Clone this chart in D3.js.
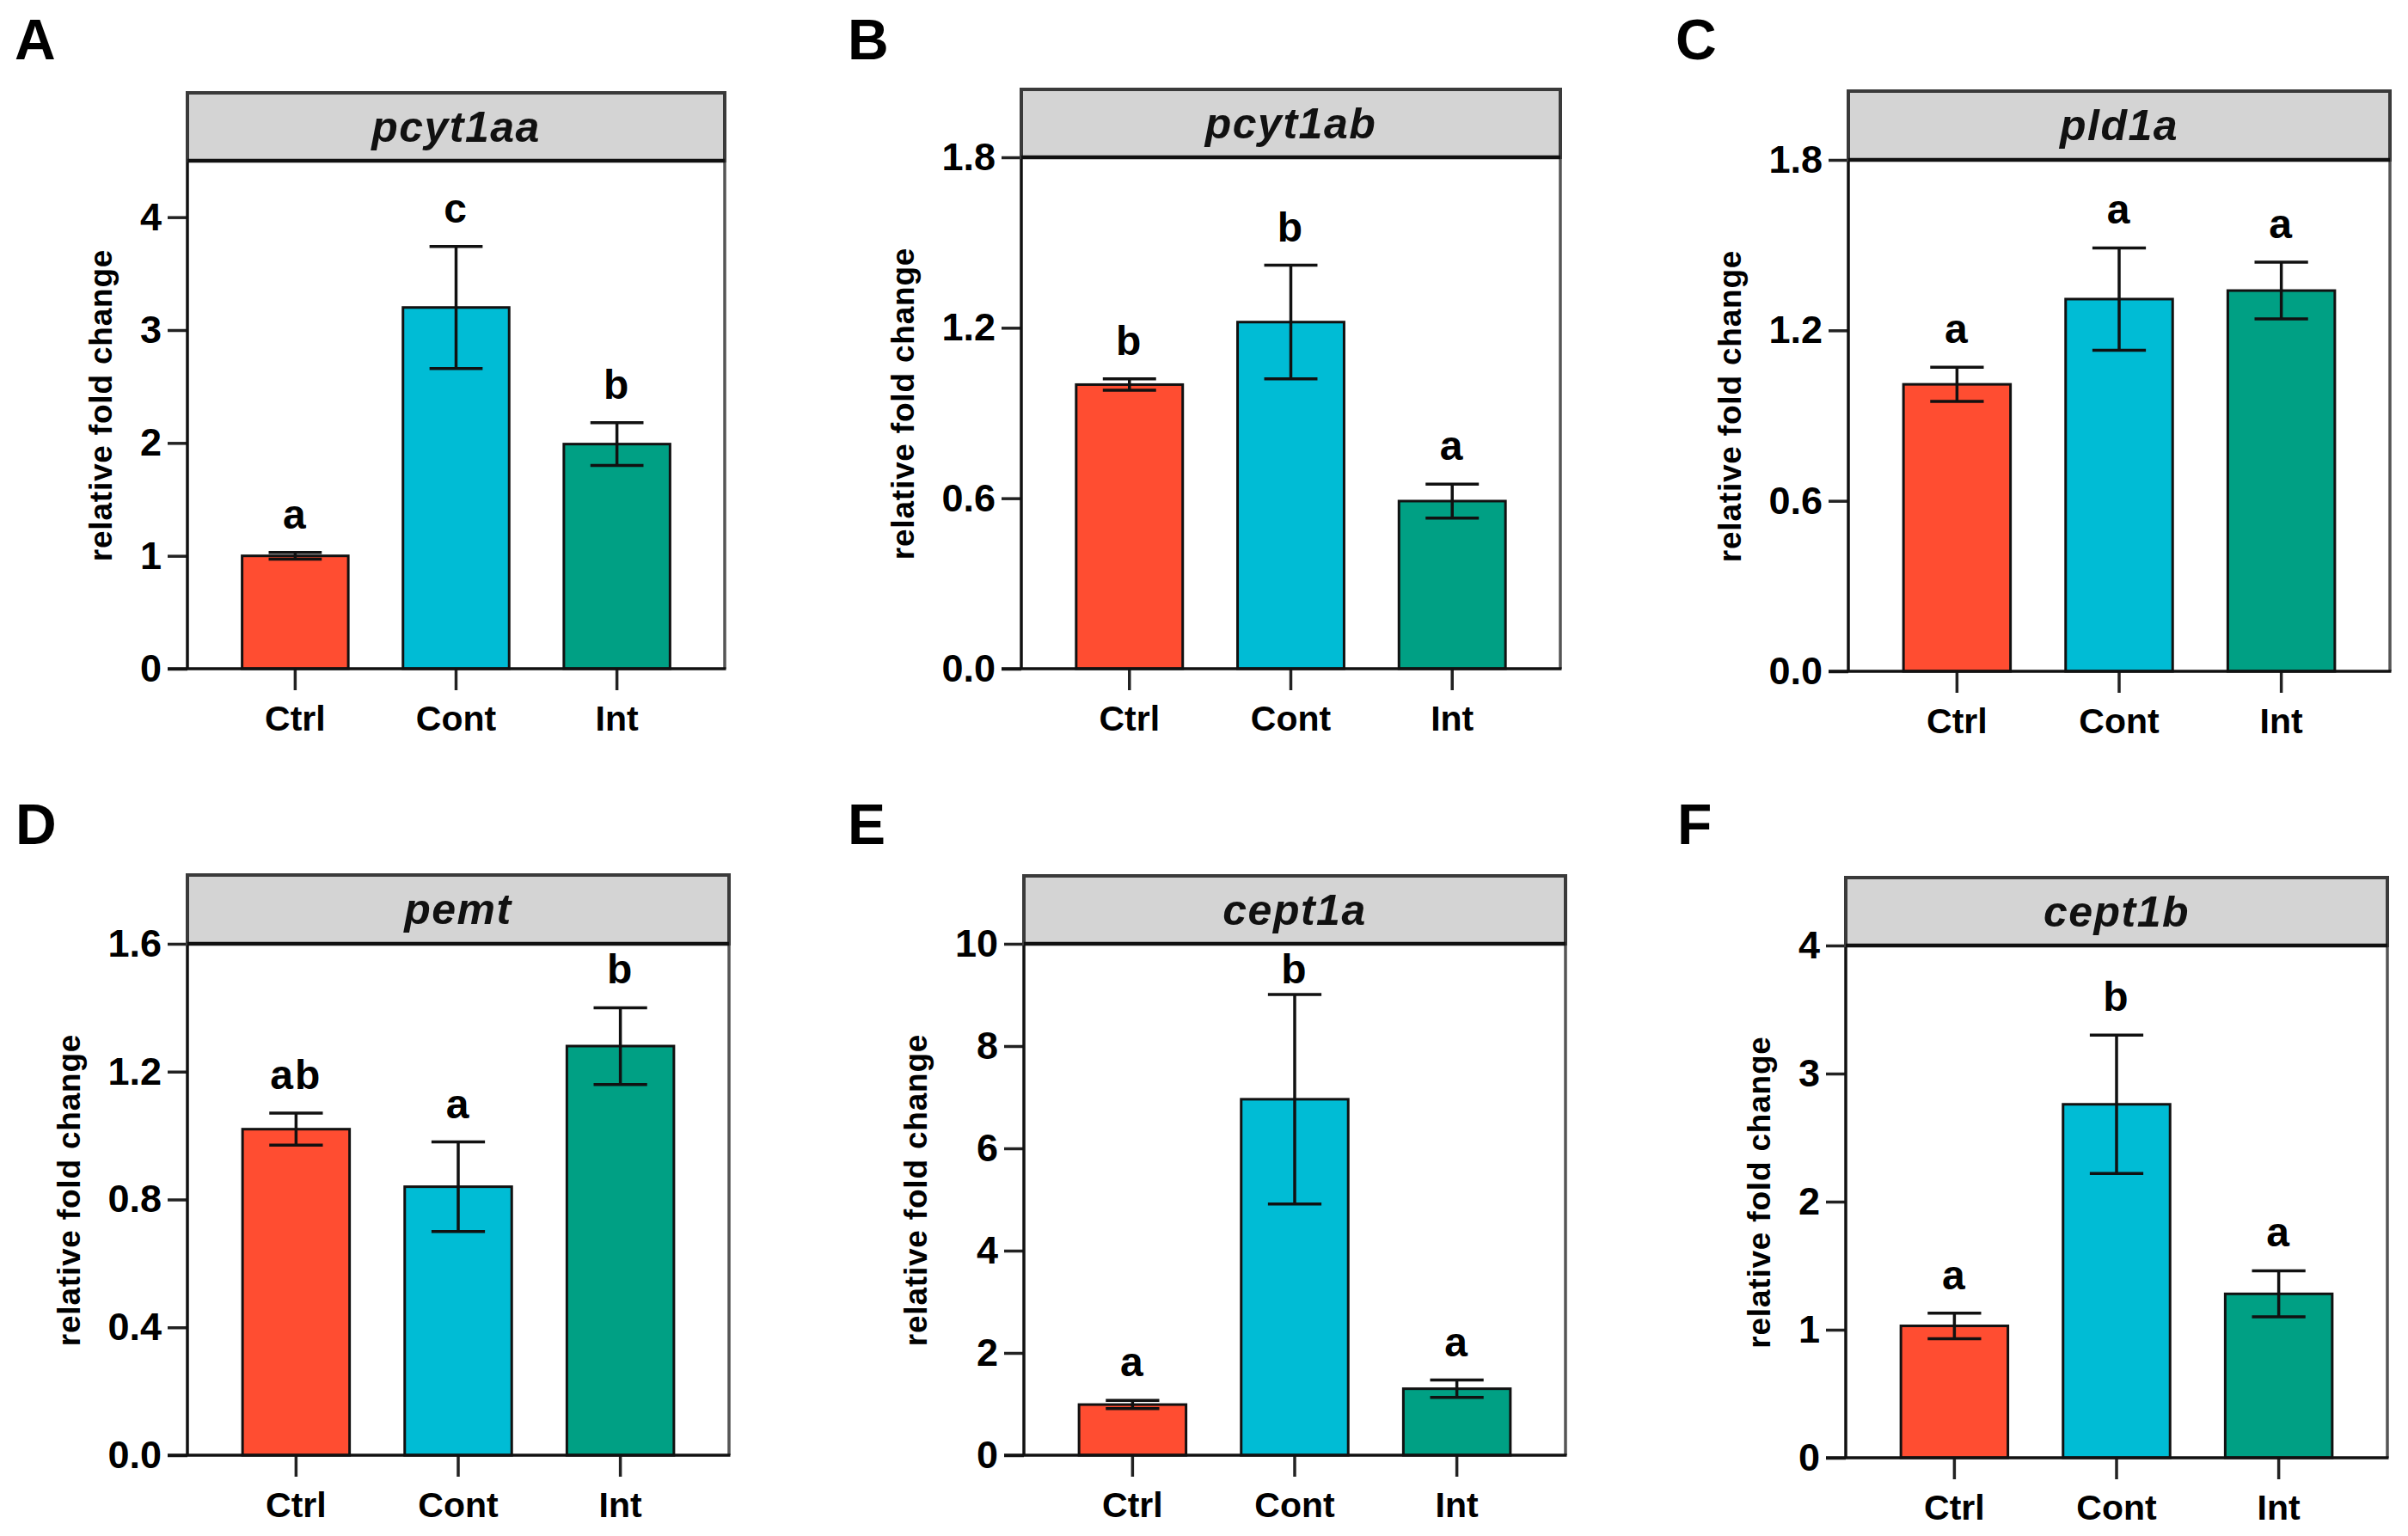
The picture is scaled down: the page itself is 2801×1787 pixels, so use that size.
<!DOCTYPE html>
<html>
<head>
<meta charset="utf-8">
<script src="https://cdn.jsdelivr.net/npm/d3@7"></script>
<style>
  body { margin: 0; background: #fff; }
  text { font-family: "Liberation Sans", Arial, sans-serif; font-weight: bold; }
</style>
</head>
<body>
<svg id="fig"></svg>
<script>
const W = 2801, H = 1787;

// ---------------- DATA
const groups = ["Ctrl", "Cont", "Int"];
const genes = ["pcyt1aa", "pcyt1ab", "pld1a", "pemt", "cept1a", "cept1b"];
const panelLetters = ["A", "B", "C", "D", "E", "F"];
const means = [
  [1.00, 3.20, 1.99],
  [1.00, 1.22, 0.59],
  [1.01, 1.31, 1.34],
  [1.02, 0.84, 1.28],
  [0.99, 6.96, 1.30],
  [1.03, 2.76, 1.28]
];
const sds = [
  [0.03, 0.54, 0.19],
  [0.02, 0.20, 0.06],
  [0.06, 0.18, 0.10],
  [0.05, 0.14, 0.12],
  [0.08, 2.05, 0.17],
  [0.10, 0.54, 0.18]
];
const sigLetters = [
  ["a", "c", "b"],
  ["b", "b", "a"],
  ["a", "a", "a"],
  ["ab", "a", "b"],
  ["a", "b", "a"],
  ["a", "b", "a"]
];
const yMax = [4.5, 1.8, 1.8, 1.6, 10, 4];
const yTicks = [
  [0, 1, 2, 3, 4],
  [0, 0.6, 1.2, 1.8],
  [0, 0.6, 1.2, 1.8],
  [0, 0.4, 0.8, 1.2, 1.6],
  [0, 2, 4, 6, 8, 10],
  [0, 1, 2, 3, 4]
];
const yFormats = ["d", ".1f", ".1f", ".1f", "d", "d"];

// ---------------- LAYOUT (pixel frames of each panel)
const frames = [
  {x0: 218,  x1: 843,  top: 108,  strip: 187,  base: 778,  lx: 17,   ly: 69},
  {x0: 1188, x1: 1815, top: 104,  strip: 183,  base: 778,  lx: 986,  ly: 69},
  {x0: 2150, x1: 2780, top: 106,  strip: 186,  base: 781,  lx: 1949, ly: 69},
  {x0: 218,  x1: 848,  top: 1018, strip: 1098, base: 1693, lx: 18,   ly: 982},
  {x0: 1191, x1: 1821, top: 1019, strip: 1098, base: 1693, lx: 986,  ly: 982},
  {x0: 2147, x1: 2777, top: 1021, strip: 1100, base: 1696, lx: 1951, ly: 982}
];

const color = d3.scaleOrdinal().domain(groups).range(["#ff4d31", "#00bcd5", "#00a084"]);

const svg = d3.select("#fig")
  .attr("width", W)
  .attr("height", H)
  .attr("viewBox", [0, 0, W, H]);

svg.append("rect").attr("width", W).attr("height", H).attr("fill", "#fff");

genes.forEach((gene, i) => {
  const f = frames[i];
  const g = svg.append("g").attr("class", "panel-" + panelLetters[i]);

  const x = d3.scaleBand()
    .domain(groups)
    .range([f.x0, f.x1])
    .paddingInner(0.34)
    .paddingOuter(0.34);

  const y = d3.scaleLinear()
    .domain([0, yMax[i]])
    .range([f.base, f.strip]);

  const rows = groups.map((grp, j) => ({
    grp: grp, mean: means[i][j], sd: sds[i][j], sig: sigLetters[i][j]
  }));

  // right frame
  g.append("line")
    .attr("x1", f.x1).attr("x2", f.x1)
    .attr("y1", f.strip).attr("y2", f.base)
    .attr("stroke", "#555").attr("stroke-width", 3.5);

  // bars
  g.selectAll("rect.bar")
    .data(rows)
    .join("rect")
      .attr("class", "bar")
      .attr("x", d => x(d.grp))
      .attr("y", d => y(d.mean))
      .attr("width", x.bandwidth())
      .attr("height", d => y(0) - y(d.mean))
      .attr("fill", d => color(d.grp))
      .attr("stroke", "#111")
      .attr("stroke-width", 3);

  // error bars
  const cap = x.bandwidth() / 4;
  const eb = g.selectAll("g.err")
    .data(rows)
    .join("g")
      .attr("class", "err")
      .attr("stroke", "#111")
      .attr("stroke-width", 3.5);
  eb.append("line")
    .attr("x1", d => x(d.grp) + x.bandwidth() / 2)
    .attr("x2", d => x(d.grp) + x.bandwidth() / 2)
    .attr("y1", d => y(d.mean - d.sd))
    .attr("y2", d => y(d.mean + d.sd));
  eb.append("line")
    .attr("x1", d => x(d.grp) + x.bandwidth() / 2 - cap)
    .attr("x2", d => x(d.grp) + x.bandwidth() / 2 + cap)
    .attr("y1", d => y(d.mean + d.sd))
    .attr("y2", d => y(d.mean + d.sd));
  eb.append("line")
    .attr("x1", d => x(d.grp) + x.bandwidth() / 2 - cap)
    .attr("x2", d => x(d.grp) + x.bandwidth() / 2 + cap)
    .attr("y1", d => y(d.mean - d.sd))
    .attr("y2", d => y(d.mean - d.sd));

  // significance letters (kept below the strip)
  g.selectAll("text.sig")
    .data(rows)
    .join("text")
      .attr("class", "sig")
      .attr("x", d => x(d.grp) + x.bandwidth() / 2)
      .attr("y", d => Math.max(y(d.mean + d.sd) - 28, f.strip + 46))
      .attr("text-anchor", "middle")
      .attr("font-size", 48)
      .attr("letter-spacing", 2)
      .attr("fill", "#000")
      .text(d => d.sig);

  // y axis
  const yAxisG = g.append("g")
    .attr("transform", `translate(${f.x0},0)`)
    .call(d3.axisLeft(y)
      .tickValues(yTicks[i])
      .tickFormat(d3.format(yFormats[i]))
      .tickSize(23)
      .tickPadding(7));
  yAxisG.select(".domain").remove();
  yAxisG.selectAll(".tick line").attr("stroke", "#222").attr("stroke-width", 3.5);
  yAxisG.selectAll(".tick text")
    .attr("font-size", 45)
    .attr("font-family", "'Liberation Sans', Arial, sans-serif")
    .attr("font-weight", "bold")
    .attr("fill", "#000");

  // x axis
  const xAxisG = g.append("g")
    .attr("transform", `translate(0,${f.base})`)
    .call(d3.axisBottom(x).tickSize(25).tickPadding(18));
  xAxisG.select(".domain").remove();
  xAxisG.selectAll(".tick line").attr("stroke", "#222").attr("stroke-width", 3.5);
  xAxisG.selectAll(".tick text")
    .attr("font-size", 41)
    .attr("font-family", "'Liberation Sans', Arial, sans-serif")
    .attr("font-weight", "bold")
    .attr("fill", "#000");

  // left frame + baseline
  g.append("line")
    .attr("x1", f.x0).attr("x2", f.x0)
    .attr("y1", f.strip).attr("y2", f.base)
    .attr("stroke", "#111").attr("stroke-width", 3.5);
  g.append("line")
    .attr("x1", f.x0 - 23).attr("x2", f.x1 + 1.5)
    .attr("y1", f.base).attr("y2", f.base)
    .attr("stroke", "#111").attr("stroke-width", 3.5);

  // strip with gene name
  g.append("rect")
    .attr("x", f.x0).attr("y", f.top)
    .attr("width", f.x1 - f.x0).attr("height", f.strip - f.top)
    .attr("fill", "#d4d4d4")
    .attr("stroke", "#3a3a3a")
    .attr("stroke-width", 4);
  g.append("line")
    .attr("x1", f.x0).attr("x2", f.x1)
    .attr("y1", f.strip).attr("y2", f.strip)
    .attr("stroke", "#111").attr("stroke-width", 4.5);
  g.append("text")
    .attr("x", (f.x0 + f.x1) / 2)
    .attr("y", (f.top + f.strip) / 2 + 17)
    .attr("text-anchor", "middle")
    .attr("font-size", 50)
    .attr("font-style", "italic")
    .attr("letter-spacing", 1.5)
    .attr("fill", "#111")
    .text(gene);

  // y label placed left of the widest tick label
  let minX = Infinity;
  yAxisG.selectAll(".tick text").each(function() {
    const b = this.getBBox();
    const m = this.getCTM();
    minX = Math.min(minX, b.x + m.e);
  });
  const lx = minX - 45;
  const ly = (f.strip + f.base) / 2 - 11;
  g.append("text")
    .attr("transform", `translate(${lx},${ly}) rotate(-90)`)
    .attr("text-anchor", "middle")
    .attr("dominant-baseline", "central")
    .attr("font-size", 37)
    .attr("letter-spacing", 0.8)
    .attr("fill", "#000")
    .text("relative fold change");

  // panel letter
  g.append("text")
    .attr("x", f.lx).attr("y", f.ly)
    .attr("font-size", 66)
    .attr("fill", "#000")
    .text(panelLetters[i]);
});
</script>
</body>
</html>
